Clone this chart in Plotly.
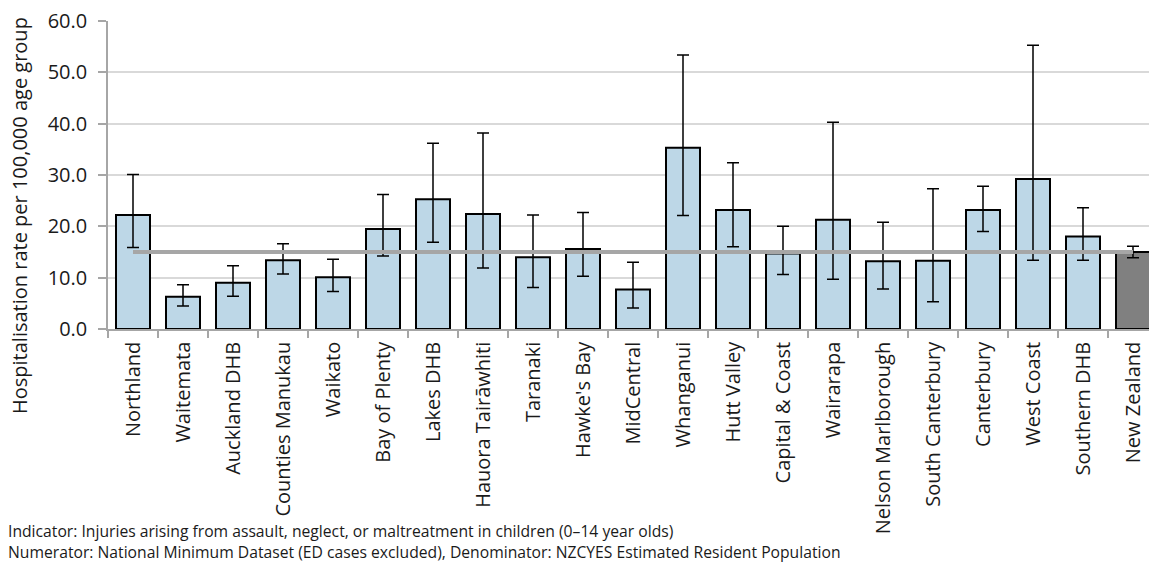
import plotly.graph_objects as go

categories = ["Northland", "Waitemata", "Auckland DHB", "Counties Manukau", "Waikato",
              "Bay of Plenty", "Lakes DHB", "Hauora Tairāwhiti", "Taranaki", "Hawke's Bay",
              "MidCentral", "Whanganui", "Hutt Valley", "Capital & Coast", "Wairarapa",
              "Nelson Marlborough", "South Canterbury", "Canterbury", "West Coast",
              "Southern DHB", "New Zealand"]
rates = [22.2, 6.3, 9.0, 13.4, 10.1, 19.5, 25.3, 22.4, 14.0, 15.6, 7.7, 35.3, 23.2,
         14.7, 21.3, 13.2, 13.3, 23.2, 29.2, 18.0, 15.0]
upper_ci = [30.1, 8.6, 12.3, 16.6, 13.6, 26.2, 36.2, 38.2, 22.2, 22.7, 13.0, 53.4, 32.4,
            20.0, 40.3, 20.8, 27.3, 27.8, 55.3, 23.6, 16.1]
lower_ci = [15.9, 4.5, 6.4, 10.7, 7.3, 14.2, 16.9, 11.9, 8.1, 10.3, 4.1, 22.1, 16.0,
            10.6, 9.7, 7.8, 5.3, 19.0, 13.4, 13.4, 13.9]
national_rate = 15.0
y_ticks = [0, 10, 20, 30, 40, 50, 60]

W, H = 1149, 567
L, T, B = 108, 21, 238
plot_w = W - L
plot_h = H - T - B

bar_colors = ["#BDD7E7"] * (len(categories) - 1) + ["#808080"]

fig = go.Figure()
fig.add_trace(go.Bar(
    x=categories, y=rates, width=0.68,
    marker=dict(color=bar_colors, line=dict(color="#000000", width=2)),
    error_y=dict(type="data", symmetric=False,
                 array=[u - r for u, r in zip(upper_ci, rates)],
                 arrayminus=[r - l for r, l in zip(rates, lower_ci)],
                 color="#000000", thickness=1.5, width=6),
    showlegend=False, hoverinfo="skip"))
fig.add_trace(go.Scatter(
    x=[categories[0], categories[-1]], y=[national_rate, national_rate],
    mode="lines", line=dict(color="#A6A6A6", width=4),
    showlegend=False, hoverinfo="skip"))

n_vis = plot_w / 50.0
fig.update_layout(
    width=W, height=H,
    margin=dict(l=L, r=0, t=T, b=B, pad=0),
    plot_bgcolor="white", paper_bgcolor="white",
    font=dict(family="Open Sans, Noto Sans, sans-serif", color="#1a1a1a", size=19),
    xaxis=dict(range=[-0.5, -0.5 + n_vis], tickangle=-90, ticks="outside",
               tickson="boundaries", ticklen=7, tickcolor="#A6A6A6", tickwidth=1.5,
               showline=True, linecolor="#A6A6A6", linewidth=1.5,
               showgrid=False, tickfont=dict(size=20), automargin=False,
               ticklabeloverflow="allow", ticklabelstandoff=3),
    yaxis=dict(range=[0, 60], tickvals=y_ticks, tickformat=".1f",
               ticks="outside", ticklen=8, tickcolor="#A6A6A6", tickwidth=1.5,
               showline=True, linecolor="#A6A6A6", linewidth=1.5,
               showgrid=True, gridcolor="#D9D9D9", gridwidth=1.5,
               zeroline=False, tickfont=dict(size=20), automargin=False,
               ticklabelstandoff=7),
    bargap=0.32,
)

fig.add_annotation(text="Hospitalisation rate per 100,000 age group",
                   xref="paper", yref="paper",
                   x=(19 - L) / plot_w, y=(H - B - 216) / plot_h,
                   xanchor="center", yanchor="middle", textangle=-90,
                   showarrow=False, font=dict(size=20))
fig.add_annotation(text="Indicator: Injuries arising from assault, neglect, or maltreatment in children (0–14 year olds)",
                   xref="paper", yref="paper",
                   x=(6 - L) / plot_w, y=-(531 - (H - B)) / plot_h,
                   xanchor="left", yanchor="middle", showarrow=False,
                   font=dict(size=15.7))
fig.add_annotation(text="Numerator: National Minimum Dataset (ED cases excluded), Denominator: NZCYES Estimated Resident Population",
                   xref="paper", yref="paper",
                   x=(6 - L) / plot_w, y=-(552 - (H - B)) / plot_h,
                   xanchor="left", yanchor="middle", showarrow=False,
                   font=dict(size=15.7))

fig.write_html("out.html", config={"displayModeBar": False},
               post_script="document.body.style.margin='0';document.body.style.overflow='hidden';")
